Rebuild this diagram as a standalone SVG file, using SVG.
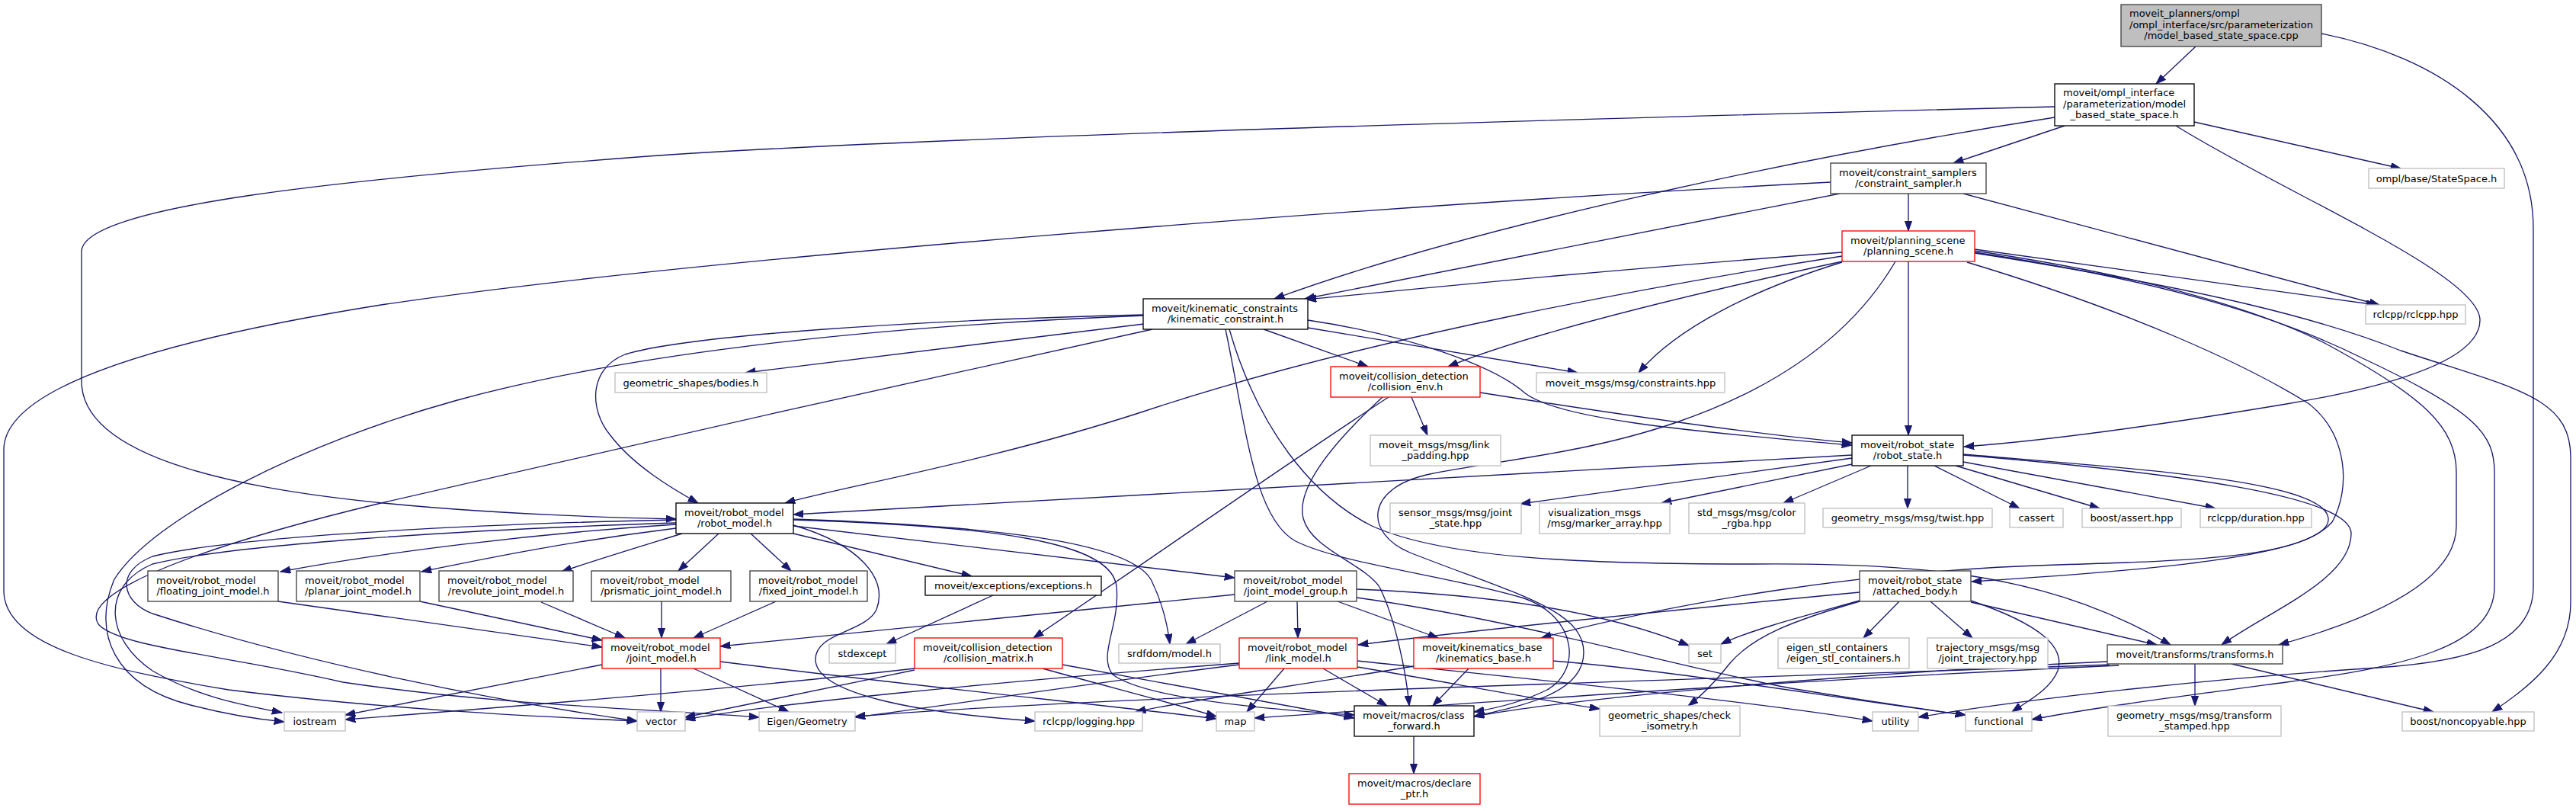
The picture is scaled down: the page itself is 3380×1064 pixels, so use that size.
<svg xmlns="http://www.w3.org/2000/svg" width="3380" height="1064" viewBox="0 0 3380 1064">
<defs>
<marker id="a" markerUnits="userSpaceOnUse" markerWidth="14" markerHeight="10" refX="13.3" refY="4.7" orient="auto"><path d="M0,0 L13.3,4.7 L0,9.4 z" fill="#191970" stroke="#191970" stroke-width="1"/></marker>
<style>
.n rect{fill:#fff;stroke-width:1.33}
.b rect{stroke:#000}
.g rect{stroke:#404040}
.r rect{stroke:#ff0000}
.x rect{stroke:#bfbfbf}
text{font-family:"DejaVu Sans","Liberation Sans",sans-serif;font-size:13px;fill:#000}
.c{text-anchor:middle}
#edges path{fill:none;stroke:#191970;stroke-width:1.33;marker-end:url(#a)}
</style>
</defs>
<rect x="0" y="0" width="3380" height="1064" fill="#fff"/>
<g id="edges">
<path d="M2881,61 L2829,110"/>
<path d="M3046,44 C3200,75 3324,160 3324,300 L3324,770 C3324,845 3240,868 3120,876 C2900,890 2650,918 2517,941"/>
<path d="M2879,160 L3150,221"/>
<path d="M2696,140 C2100,155 1200,180 850,205 C450,235 107,270 107,330 L107,500 C107,640 500,672 887,681"/>
<path d="M2855,165 C3000,255 3254,360 3254,420 C3254,470 3150,505 3000,530 C2850,555 2700,577 2577,586"/>
<path d="M2696,154 C2400,200 1950,290 1672,392"/>
<path d="M2709,165 L2563,214"/>
<path d="M2504,254 L2504,303"/>
<path d="M2414,254 L1712,392"/>
<path d="M2402,239 C1800,270 900,340 500,400 C250,440 5,500 5,590 L5,775 C5,850 150,880 300,905 C500,930 700,940 836,946"/>
<path d="M2576,254 L3122,400"/>
<path d="M2417,331 C2100,355 1900,375 1714,393"/>
<path d="M2417,336 C2200,370 1800,440 1500,540 C1300,605 1100,640 1030,660"/>
<path d="M2417,343 C2200,390 2000,440 1900,481"/>
<path d="M2417,344 C2300,380 2200,430 2150,489"/>
<path d="M2487,343 C2430,440 2330,510 2197,555 C2080,595 1960,605 1876,622 C1790,640 1790,700 1850,725 C1990,780 2078,800 2078,856 C2078,910 2000,925 1934,940"/>
<path d="M2504,343 L2504,571"/>
<path d="M2591,327 L3118,400"/>
<path d="M2581,344 C2800,410 2950,480 3030,530 C3080,570 3085,640 3060,685 C3020,730 2900,735 2700,741 C2450,748 2200,790 2022,837"/>
<path d="M2591,329 C2800,360 2950,400 3050,450 C3180,520 3223,560 3223,620 L3223,690 C3223,760 3120,810 2990,846"/>
<path d="M2591,331 C2850,370 3000,420 3100,470 C3250,540 3273,570 3273,620 L3273,770 C3273,850 3150,875 3000,895 C2850,915 2750,928 2666,944"/>
<path d="M2591,332 C2900,380 3050,420 3150,460 C3300,510 3373,520 3373,600 L3373,790 C3373,860 3320,900 3270,934"/>
<path d="M1501,425 L978,489"/>
<path d="M1501,413 C1200,420 900,440 820,465 C770,485 775,540 800,570 C830,610 880,640 916,660"/>
<path d="M1501,414 C1100,430 800,470 600,525 C400,580 200,680 150,760 C120,830 150,900 250,925 C300,938 340,944 373,947"/>
<path d="M1512,432 C1200,500 800,590 500,660 C250,720 100,780 130,820 C160,850 300,860 450,895 C650,925 850,930 996,941"/>
<path d="M1658,432 L1795,481"/>
<path d="M1716,430 L2070,489"/>
<path d="M1716,420 C1850,440 1960,480 2000,515 C2040,548 2200,565 2430,584"/>
<path d="M1613,432 C1650,560 1720,650 1800,690 C1900,735 2100,740 2300,740 C2550,738 2700,760 2848,846"/>
<path d="M1608,432 C1635,560 1645,680 1700,710 C1760,740 1900,755 2000,785 C2070,810 2075,880 2030,905 C2000,920 1970,928 1934,934"/>
<path d="M1852,521 L1873,571"/>
<path d="M1942,515 C2100,540 2300,570 2430,581"/>
<path d="M1822,521 C1700,600 1500,740 1356,837"/>
<path d="M1814,521 C1750,580 1700,640 1710,680 C1720,720 1790,740 1810,770 C1830,810 1845,880 1849,926"/>
<path d="M2430,597 L1041,675"/>
<path d="M2430,601 L1995,661"/>
<path d="M2430,609 L2180,660"/>
<path d="M2455,611 L2340,660"/>
<path d="M2503,611 L2503,667"/>
<path d="M2538,611 L2650,667"/>
<path d="M2566,611 L2755,667"/>
<path d="M2576,606 L2907,667"/>
<path d="M2576,596 C2800,615 3050,630 3055,680 C3060,730 2800,750 2587,763"/>
<path d="M2576,597 C2850,620 3085,650 3085,700 C3085,760 2980,800 2915,846"/>
<path d="M2440,777 C2200,800 1950,825 1782,846"/>
<path d="M2440,788 C2380,805 2300,825 2258,845"/>
<path d="M2440,789 C2350,815 2300,835 2270,870 C2250,895 2230,915 2215,926"/>
<path d="M2492,789 L2445,837"/>
<path d="M2533,789 L2588,837"/>
<path d="M2586,788 C2680,820 2710,850 2700,880 C2690,905 2660,920 2640,934"/>
<path d="M2586,790 L2830,846"/>
<path d="M887,688 C700,700 500,725 368,750"/>
<path d="M887,693 C750,710 650,730 553,750"/>
<path d="M895,700 C830,720 780,735 737,750"/>
<path d="M943,700 L890,749"/>
<path d="M985,700 L1038,749"/>
<path d="M1041,700 L1275,756"/>
<path d="M1041,690 L1620,758"/>
<path d="M1041,681 C1300,690 1480,710 1510,760 C1525,790 1532,820 1535,845"/>
<path d="M1041,682 C1300,690 1460,710 1465,770 C1470,820 1440,860 1460,885 C1500,915 1650,930 1777,938"/>
<path d="M1041,689 C1130,715 1165,760 1150,800 C1135,830 1070,830 1070,865 C1070,910 1200,935 1358,946"/>
<path d="M887,686 C600,695 300,715 200,740 C130,770 140,840 200,880 C260,915 320,925 370,935"/>
<path d="M887,682 C600,688 300,705 200,730 C150,750 160,790 200,805 C400,870 650,920 836,946"/>
<path d="M365,789 L790,849"/>
<path d="M551,789 L790,840"/>
<path d="M710,790 L820,837"/>
<path d="M868,789 L868,837"/>
<path d="M1018,789 L910,837"/>
<path d="M1303,781 L1163,845"/>
<path d="M1620,780 L945,848"/>
<path d="M1702,789 L1703,837"/>
<path d="M1755,789 L1887,837"/>
<path d="M1663,789 L1556,845"/>
<path d="M1780,773 C1950,780 2100,800 2216,847"/>
<path d="M1780,784 C2000,815 2200,875 2350,903 C2450,920 2520,930 2579,938"/>
<path d="M2037,867 C2200,880 2400,915 2579,938"/>
<path d="M1927,877 L1880,926"/>
<path d="M1855,874 C1700,900 1550,920 1490,934"/>
<path d="M1736,877 L1820,926"/>
<path d="M1685,877 L1636,934"/>
<path d="M1626,872 C1400,900 1250,925 1122,941"/>
<path d="M1626,870 C1300,895 1000,925 899,944"/>
<path d="M1781,867 C2000,890 2300,920 2457,946"/>
<path d="M1781,875 C1900,895 2000,915 2099,930"/>
<path d="M867,877 L867,934"/>
<path d="M910,877 L1035,934"/>
<path d="M790,872 L453,938"/>
<path d="M945,868 C1200,900 1450,925 1596,943"/>
<path d="M1200,879 C1100,900 1000,920 899,941"/>
<path d="M1200,877 C1000,900 700,925 453,944"/>
<path d="M1368,877 C1450,900 1530,920 1596,940"/>
<path d="M1394,872 C1550,900 1680,925 1777,942"/>
<path d="M2765,868 C2500,880 2100,910 1934,940"/>
<path d="M2768,872 C2300,890 1500,910 1122,940"/>
<path d="M2780,873 C2300,895 1900,925 1646,942"/>
<path d="M2880,871 L2880,926"/>
<path d="M2928,871 L3193,934"/>
<path d="M1855,966 L1855,1015"/>
</g>
<g id="root" class="n g"><rect x="2783" y="6" width="263" height="55" style="fill:#bfbfbf"/><text x="2794" y="22">moveit_planners/ompl</text><text x="2794" y="36.7">/ompl_interface/src/parameterization</text><text class="c" x="2914.5" y="51.4">/model_based_state_space.cpp</text></g>
<g id="mbss" class="n b"><rect x="2696" y="110" width="183" height="55"/><text x="2707" y="126">moveit/ompl_interface</text><text x="2707" y="140.7">/parameterization/model</text><text class="c" x="2787.5" y="155.4">_based_state_space.h</text></g>
<g id="cs" class="n g"><rect x="2402" y="214" width="204" height="40"/><text x="2413" y="230.5">moveit/constraint_samplers</text><text class="c" x="2504" y="245.2">/constraint_sampler.h</text></g>
<g id="ss" class="n x"><rect x="3108" y="221" width="178" height="26"/><text class="c" x="3197" y="238.5">ompl/base/StateSpace.h</text></g>
<g id="ps" class="n r"><rect x="2417" y="303" width="174" height="40"/><text x="2428" y="319.5">moveit/planning_scene</text><text class="c" x="2504" y="334.2">/planning_scene.h</text></g>
<g id="kc" class="n b"><rect x="1500" y="392" width="216" height="40"/><text x="1511" y="408.5">moveit/kinematic_constraints</text><text class="c" x="1608" y="423.2">/kinematic_constraint.h</text></g>
<g id="rclcpp" class="n x"><rect x="3104" y="400" width="131" height="25"/><text class="c" x="3169.5" y="416.6">rclcpp/rclcpp.hpp</text></g>
<g id="ce" class="n r"><rect x="1746" y="481" width="196" height="40"/><text x="1757" y="497.5">moveit/collision_detection</text><text class="c" x="1844" y="512.2">/collision_env.h</text></g>
<g id="bodies" class="n x"><rect x="807" y="489" width="199" height="26"/><text class="c" x="906.5" y="506.5">geometric_shapes/bodies.h</text></g>
<g id="cons" class="n x"><rect x="2016" y="489" width="247" height="26"/><text class="c" x="2139.5" y="506.5">moveit_msgs/msg/constraints.hpp</text></g>
<g id="rs" class="n b"><rect x="2430" y="571" width="146" height="40"/><text x="2441" y="587.5">moveit/robot_state</text><text class="c" x="2503" y="602.2">/robot_state.h</text></g>
<g id="lp" class="n x"><rect x="1798" y="571" width="171" height="40"/><text x="1809" y="587.5">moveit_msgs/msg/link</text><text class="c" x="1883.5" y="602.2">_padding.hpp</text></g>
<g id="rm" class="n b"><rect x="887" y="660" width="154" height="40"/><text x="898" y="676.5">moveit/robot_model</text><text class="c" x="964" y="691.2">/robot_model.h</text></g>
<g id="sm" class="n x"><rect x="1824" y="660" width="172" height="40"/><text x="1835" y="676.5">sensor_msgs/msg/joint</text><text class="c" x="1910" y="691.2">_state.hpp</text></g>
<g id="vis" class="n x"><rect x="2020" y="660" width="171" height="40"/><text x="2031" y="676.5">visualization_msgs</text><text class="c" x="2105.5" y="691.2">/msg/marker_array.hpp</text></g>
<g id="col" class="n x"><rect x="2216" y="660" width="152" height="40"/><text x="2227" y="676.5">std_msgs/msg/color</text><text class="c" x="2292" y="691.2">_rgba.hpp</text></g>
<g id="tw" class="n x"><rect x="2392" y="667" width="222" height="25"/><text class="c" x="2503" y="683.6">geometry_msgs/msg/twist.hpp</text></g>
<g id="ca" class="n x"><rect x="2637" y="667" width="70" height="25"/><text class="c" x="2672" y="683.6">cassert</text></g>
<g id="ba" class="n x"><rect x="2732" y="667" width="130" height="25"/><text class="c" x="2797" y="683.6">boost/assert.hpp</text></g>
<g id="du" class="n x"><rect x="2887" y="667" width="146" height="25"/><text class="c" x="2960" y="683.6">rclcpp/duration.hpp</text></g>
<g id="fl" class="n g"><rect x="194" y="749" width="171" height="40"/><text x="205" y="765.5">moveit/robot_model</text><text class="c" x="279.5" y="780.2">/floating_joint_model.h</text></g>
<g id="pl" class="n g"><rect x="389" y="749" width="162" height="40"/><text x="400" y="765.5">moveit/robot_model</text><text class="c" x="470" y="780.2">/planar_joint_model.h</text></g>
<g id="rv" class="n g"><rect x="576" y="749" width="176" height="40"/><text x="587" y="765.5">moveit/robot_model</text><text class="c" x="664" y="780.2">/revolute_joint_model.h</text></g>
<g id="pr" class="n g"><rect x="776" y="749" width="183" height="40"/><text x="787" y="765.5">moveit/robot_model</text><text class="c" x="867.5" y="780.2">/prismatic_joint_model.h</text></g>
<g id="fx" class="n g"><rect x="984" y="749" width="154" height="40"/><text x="995" y="765.5">moveit/robot_model</text><text class="c" x="1061" y="780.2">/fixed_joint_model.h</text></g>
<g id="ex" class="n b"><rect x="1214" y="756" width="231" height="25"/><text class="c" x="1329.5" y="772.6">moveit/exceptions/exceptions.h</text></g>
<g id="jmg" class="n g"><rect x="1620" y="749" width="160" height="40"/><text x="1631" y="765.5">moveit/robot_model</text><text class="c" x="1700" y="780.2">/joint_model_group.h</text></g>
<g id="ab" class="n g"><rect x="2440" y="749" width="146" height="40"/><text x="2451" y="765.5">moveit/robot_state</text><text class="c" x="2513" y="780.2">/attached_body.h</text></g>
<g id="jm" class="n r"><rect x="790" y="837" width="155" height="40"/><text x="801" y="853.5">moveit/robot_model</text><text class="c" x="867.5" y="868.2">/joint_model.h</text></g>
<g id="st" class="n x"><rect x="1088" y="845" width="87" height="25"/><text class="c" x="1131.5" y="861.6">stdexcept</text></g>
<g id="cm" class="n r"><rect x="1200" y="837" width="194" height="40"/><text x="1211" y="853.5">moveit/collision_detection</text><text class="c" x="1297" y="868.2">/collision_matrix.h</text></g>
<g id="srdf" class="n x"><rect x="1468" y="845" width="133" height="25"/><text class="c" x="1534.5" y="861.6">srdfdom/model.h</text></g>
<g id="lm" class="n r"><rect x="1626" y="837" width="155" height="40"/><text x="1637" y="853.5">moveit/robot_model</text><text class="c" x="1703.5" y="868.2">/link_model.h</text></g>
<g id="kb" class="n r"><rect x="1855" y="837" width="183" height="40"/><text x="1866" y="853.5">moveit/kinematics_base</text><text class="c" x="1946.5" y="868.2">/kinematics_base.h</text></g>
<g id="set" class="n x"><rect x="2216" y="845" width="42" height="25"/><text class="c" x="2237" y="861.6">set</text></g>
<g id="esc" class="n x"><rect x="2333" y="837" width="172" height="40"/><text x="2344" y="853.5">eigen_stl_containers</text><text class="c" x="2419" y="868.2">/eigen_stl_containers.h</text></g>
<g id="tj" class="n x"><rect x="2529" y="837" width="158" height="40"/><text x="2540" y="853.5">trajectory_msgs/msg</text><text class="c" x="2608" y="868.2">/joint_trajectory.hpp</text></g>
<g id="tf" class="n g"><rect x="2765" y="846" width="230" height="25"/><text class="c" x="2880" y="862.6">moveit/transforms/transforms.h</text></g>
<g id="io" class="n x"><rect x="373" y="934" width="80" height="25"/><text class="c" x="413" y="950.6">iostream</text></g>
<g id="vec" class="n x"><rect x="836" y="934" width="63" height="25"/><text class="c" x="867.5" y="950.6">vector</text></g>
<g id="eig" class="n x"><rect x="996" y="934" width="126" height="25"/><text class="c" x="1059" y="950.6">Eigen/Geometry</text></g>
<g id="log" class="n x"><rect x="1358" y="934" width="141" height="25"/><text class="c" x="1428.5" y="950.6">rclcpp/logging.hpp</text></g>
<g id="map" class="n x"><rect x="1596" y="934" width="50" height="25"/><text class="c" x="1621" y="950.6">map</text></g>
<g id="cf" class="n b"><rect x="1777" y="926" width="157" height="40"/><text x="1788" y="942.5">moveit/macros/class</text><text class="c" x="1855.5" y="957.2">_forward.h</text></g>
<g id="ci" class="n x"><rect x="2099" y="926" width="184" height="40"/><text x="2110" y="942.5">geometric_shapes/check</text><text class="c" x="2191" y="957.2">_isometry.h</text></g>
<g id="ut" class="n x"><rect x="2457" y="934" width="60" height="25"/><text class="c" x="2487" y="950.6">utility</text></g>
<g id="fn" class="n x"><rect x="2579" y="934" width="87" height="25"/><text class="c" x="2622.5" y="950.6">functional</text></g>
<g id="ts" class="n x"><rect x="2766" y="926" width="227" height="40"/><text x="2777" y="942.5">geometry_msgs/msg/transform</text><text class="c" x="2879.5" y="957.2">_stamped.hpp</text></g>
<g id="nc" class="n x"><rect x="3152" y="934" width="173" height="25"/><text class="c" x="3238.5" y="950.6">boost/noncopyable.hpp</text></g>
<g id="dp" class="n r"><rect x="1770" y="1015" width="172" height="40"/><text x="1781" y="1031.5">moveit/macros/declare</text><text class="c" x="1856" y="1046.2">_ptr.h</text></g>
</svg>
